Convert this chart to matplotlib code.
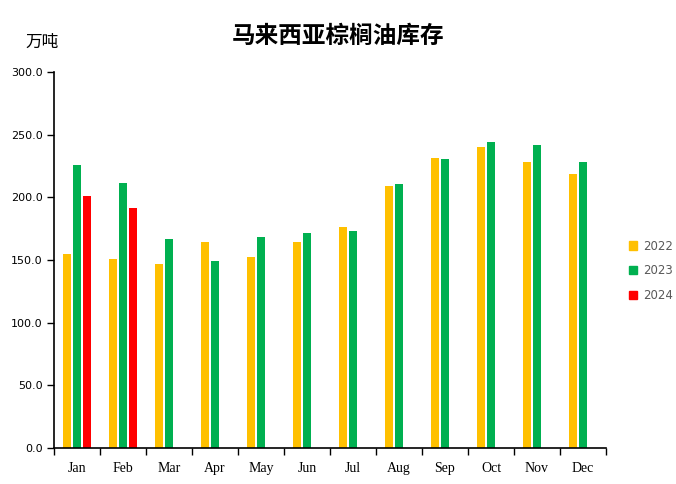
import numpy as np
import matplotlib
matplotlib.use('Agg')
import matplotlib.pyplot as plt
from matplotlib.patches import Patch

plt.rcParams['font.family'] = ['Noto Sans CJK SC', 'DejaVu Sans']

# data
months = ['Jan', 'Feb', 'Mar', 'Apr', 'May', 'Jun', 'Jul', 'Aug', 'Sep', 'Oct', 'Nov', 'Dec']
v2022 = [155, 151, 147, 164, 152, 164, 176.5, 209, 231.5, 240, 228.5, 218.5]
v2023 = [226, 211.5, 167, 149, 168.5, 171.5, 173, 211, 230.5, 244, 242, 228.5]
v2024 = [201, 191.5]
years = ['2022', '2023', '2024']
colors = ['#FFC000', '#00B050', '#FF0000']

fig = plt.figure(figsize=(6.76, 4.84), dpi=100)
ax = fig.add_axes([54 / 676, 1 - 448 / 484, 552 / 676, 376 / 484])

x = np.arange(len(months))
w = 0.175
off = 0.225
ax.bar(x - off, v2022, width=w, color=colors[0])
ax.bar(x, v2023, width=w, color=colors[1])
ax.bar(x[:len(v2024)] + off, v2024, width=w, color=colors[2])

ax.set_xlim(-0.5, len(months) - 0.5)
ax.set_ylim(0, 300)
ax.set_yticks(np.arange(0, 301, 50))
ax.set_yticklabels(['%.1f' % v for v in np.arange(0, 301, 50)], fontsize=8,
                   family='DejaVu Sans')

# ticks between categories, labels centered
ax.set_xticks(np.arange(-0.5, len(months), 1))
ax.set_xticklabels([])
ax.set_xticks(x, minor=True)
ax.set_xticklabels(months, minor=True, family='Liberation Serif', fontsize=10)
ax.tick_params(axis='x', which='minor', length=0, pad=10)
ax.tick_params(axis='x', which='major', length=5, width=1)
ax.tick_params(axis='y', length=5, width=1, pad=3)

for s in ['top', 'right']:
    ax.spines[s].set_visible(False)
ax.spines['left'].set_linewidth(1.2)
ax.spines['bottom'].set_linewidth(1.2)

fig.text(338 / 676, 1 - 36 / 484, '马来西亚棕榈油库存', ha='center', va='center',
         fontsize=17, fontweight='bold')
fig.text(42 / 676, 1 - 42 / 484, '万吨', ha='center', va='center', fontsize=12)

handles = [Patch(color=c, label=y) for c, y in zip(colors, years)]
leg = fig.legend(handles=handles, loc='center left', bbox_to_anchor=(618 / 676, 1 - 271 / 484),
                 frameon=False, handlelength=0.7, handleheight=0.7, handletextpad=0.5,
                 labelspacing=1.0, prop={'family': 'DejaVu Sans', 'size': 8.5})
for t in leg.get_texts():
    t.set_color('#595959')

plt.savefig('out.png')
